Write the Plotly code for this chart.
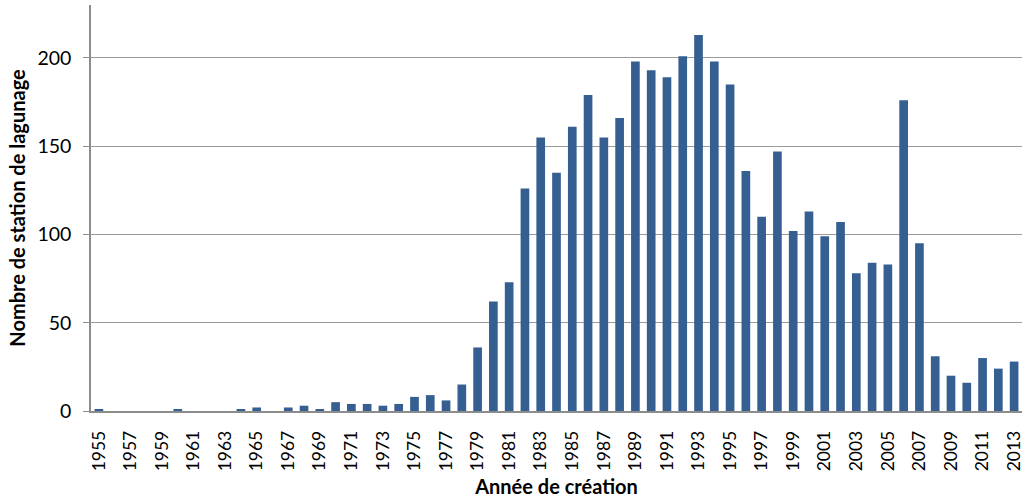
import plotly.graph_objects as go

years = list(range(1955, 2014))
counts = [1, 0, 0, 0, 0, 1, 0, 0, 0, 1,
          2, 0, 2, 3, 1, 5, 4, 4, 3, 4,
          8, 9, 6, 15, 36, 62, 73, 126, 155, 135,
          161, 179, 155, 166, 198, 193, 189, 201, 213, 198,
          185, 136, 110, 147, 102, 113, 99, 107, 78, 84,
          83, 176, 95, 31, 20, 16, 30, 24, 28]
tick_years = [str(y) for y in range(1955, 2014, 2)]

x_labels = [str(y) for y in years]

fig = go.Figure(go.Bar(
    x=x_labels, y=counts,
    marker=dict(color="#355F91", line=dict(width=0)),
))

font_family = "Lato, Liberation Sans, Arial, sans-serif"
fig.update_layout(
    width=1024, height=499,
    margin=dict(l=91, r=2, t=5, b=88, autoexpand=False),
    plot_bgcolor="white", paper_bgcolor="white",
    bargap=0.45,
    showlegend=False,
    font=dict(family=font_family, size=18, color="black"),
)
fig.update_xaxes(
    type="category",
    tickmode="array", tickvals=tick_years, ticktext=tick_years,
    tickangle=-90,
    showline=True, linecolor="#8C8C8C", linewidth=1.5,
    ticks="", showgrid=False, automargin=False,
    tickfont=dict(size=17.5), ticklabelstandoff=11,
    title=dict(text="<b>Année de création</b>", font=dict(size=20), standoff=10),
)
fig.update_yaxes(
    range=[0, 230],
    tickvals=[0, 50, 100, 150, 200],
    showline=True, linecolor="#8C8C8C", linewidth=1.5,
    showgrid=True, gridcolor="#9A9A9A", gridwidth=1.2,
    ticks="outside", ticklen=6, tickcolor="#8C8C8C",
    tickfont=dict(size=19.5), automargin=False, ticklabelstandoff=8,
    zeroline=False,
    title=dict(text="<b>Nombre de station de lagunage</b>", font=dict(size=20), standoff=6),
)

fig.write_html("out.html", config={"displayModeBar": False},
               post_script="document.body.style.margin='0px';document.body.style.overflow='hidden';")
